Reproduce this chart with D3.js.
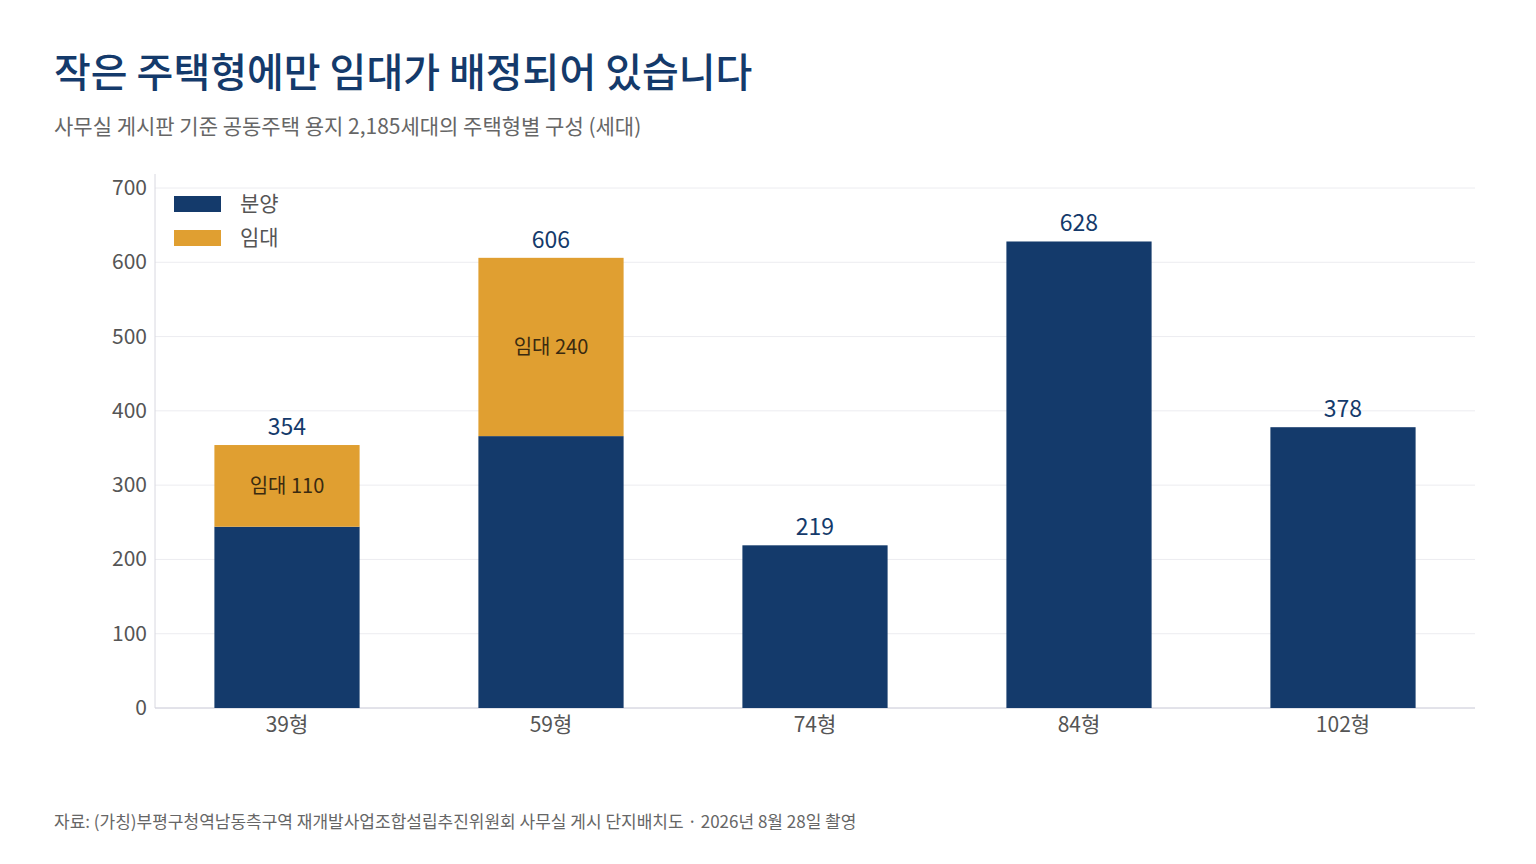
<!DOCTYPE html>
<html><head><meta charset="utf-8">
<script src="https://cdn.jsdelivr.net/npm/d3@7"></script>
<style>body{margin:0;background:#fff;font-family:"Noto Sans CJK KR","Noto Sans",sans-serif;}</style>
</head><body><svg id="c" width="1536" height="864"></svg>
<script>
const categories=["39형","59형","74형","84형","102형"];
const sale=[244,366,219,628,378];
const rent=[110,240,0,0,0];
const yTicks=[0,100,200,300,400,500,600,700];
const navy="#143a6b", gold="#e09f31";
const svg=d3.select("#c");
const L=155,R=1475,T=188,B=708;
const x=d3.scaleBand().domain(categories).range([L,R]).paddingInner(0.45).paddingOuter(0.225);
const y=d3.scaleLinear().domain([0,700]).range([B,T]);
svg.append("text").attr("x",54).attr("y",87).attr("font-size",40).attr("font-weight",500).attr("fill","#143a6b").text("작은 주택형에만 임대가 배정되어 있습니다");
svg.append("text").attr("x",54).attr("y",134).attr("font-size",21).attr("fill","#666").text("사무실 게시판 기준 공동주택 용지 2,185세대의 주택형별 구성 (세대)");
svg.append("g").selectAll("line").data(yTicks).join("line").attr("x1",L).attr("x2",R).attr("y1",d=>y(d)).attr("y2",d=>y(d)).attr("stroke","#ececf0");
svg.append("line").attr("x1",L).attr("x2",L).attr("y1",T-14).attr("y2",B).attr("stroke","#d8d8e0");
svg.append("line").attr("x1",L).attr("x2",R).attr("y1",B).attr("y2",B).attr("stroke","#d0d0dc");
svg.append("g").selectAll("text").data(yTicks).join("text").attr("x",L-8).attr("y",d=>y(d)+7).attr("text-anchor","end").attr("font-size",21).attr("fill","#555").text(d=>d);
svg.append("g").selectAll("text").data(categories).join("text").attr("x",d=>x(d)+x.bandwidth()/2).attr("y",B+24).attr("text-anchor","middle").attr("font-size",21).attr("fill","#555").text(d=>d);
svg.append("g").selectAll("rect").data(categories).join("rect").attr("x",d=>x(d)).attr("width",x.bandwidth()).attr("y",(d,i)=>y(sale[i])).attr("height",(d,i)=>y(0)-y(sale[i])).attr("fill",navy);
svg.append("g").selectAll("rect").data(categories.filter((d,i)=>rent[i]>0)).join("rect").attr("x",d=>x(d)).attr("width",x.bandwidth()).attr("y",d=>{const i=categories.indexOf(d);return y(sale[i]+rent[i]);}).attr("height",d=>{const i=categories.indexOf(d);return y(sale[i])-y(sale[i]+rent[i]);}).attr("fill",gold);
svg.append("g").selectAll("text").data(categories.filter((d,i)=>rent[i]>0)).join("text").attr("x",d=>x(d)+x.bandwidth()/2).attr("y",d=>{const i=categories.indexOf(d);return y(sale[i]+rent[i]/2)+7;}).attr("text-anchor","middle").attr("font-size",20).attr("fill","#3a2a10").text(d=>"임대 "+rent[categories.indexOf(d)]);
svg.append("g").selectAll("text").data(categories).join("text").attr("x",d=>x(d)+x.bandwidth()/2).attr("y",(d,i)=>y(sale[i]+rent[i])-10).attr("text-anchor","middle").attr("font-size",23).attr("fill",navy).text((d,i)=>sale[i]+rent[i]);
const lg=[["분양",navy],["임대",gold]];
lg.forEach((l,i)=>{svg.append("rect").attr("x",174).attr("y",196+i*34).attr("width",47).attr("height",16).attr("fill",l[1]);
svg.append("text").attr("x",240).attr("y",211+i*34).attr("font-size",21).attr("fill","#555").text(l[0]);});
svg.append("text").attr("x",54).attr("y",828).attr("font-size",17).attr("fill","#666").text("자료: (가칭)부평구청역남동측구역 재개발사업조합설립추진위원회 사무실 게시 단지배치도 · 2026년 8월 28일 촬영");
</script></body></html>
